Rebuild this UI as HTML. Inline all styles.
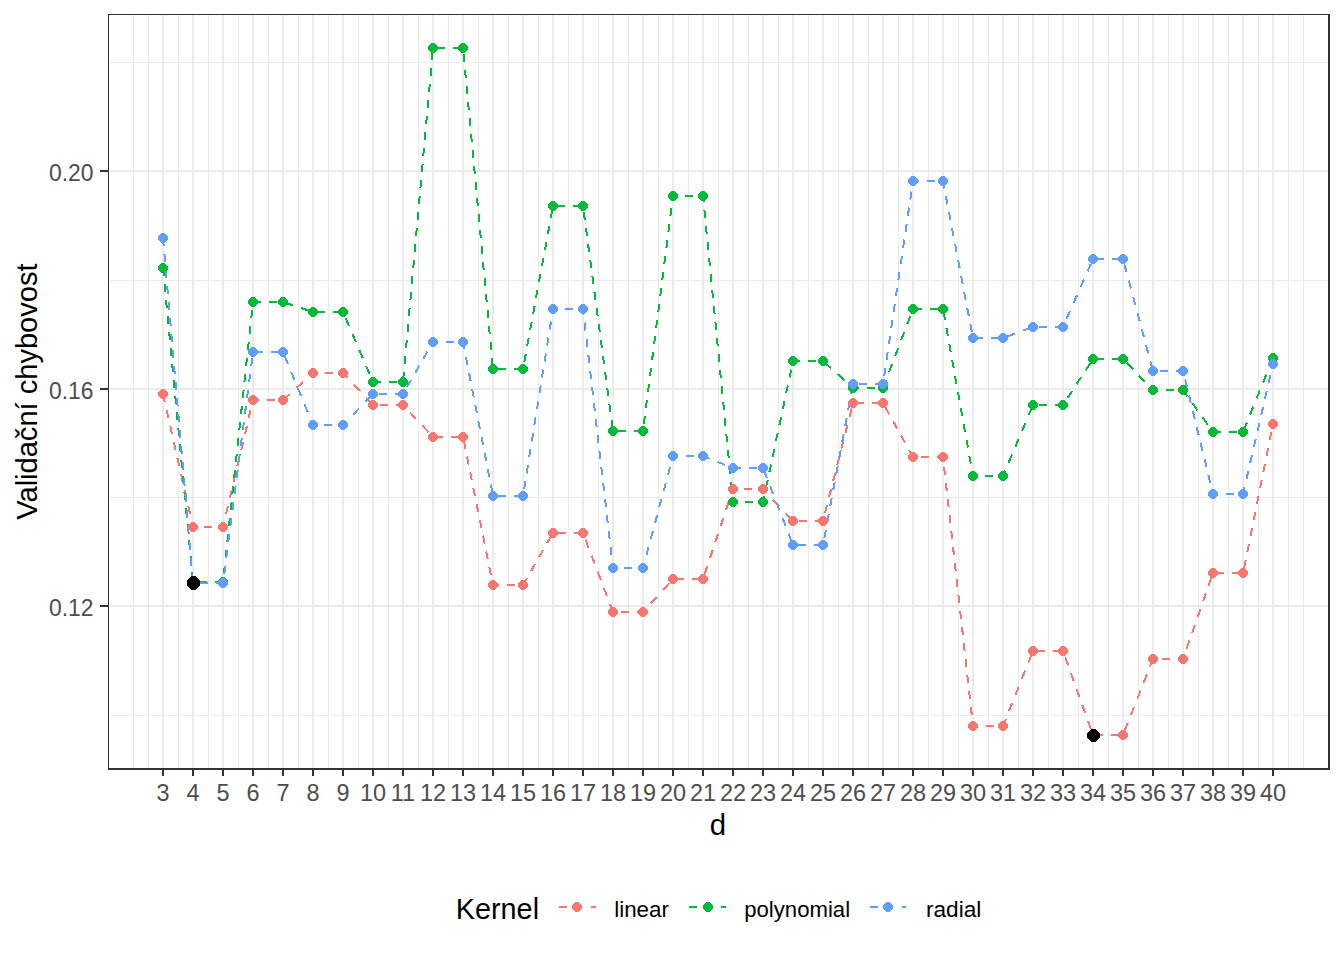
<!DOCTYPE html>
<html lang="cs"><head><meta charset="utf-8"><title>Validační chybovost</title>
<style>html,body{margin:0;padding:0;background:#fff}body{width:1344px;height:960px;overflow:hidden}svg{display:block}text{font-family:"Liberation Sans",Arial,sans-serif}</style>
</head><body>
<svg width="1344" height="960" viewBox="0 0 1344 960">
<rect width="1344" height="960" fill="#fff"/>
<g fill="#EBEBEB" shape-rendering="crispEdges">
<rect x="110" y="62" width="1218" height="1"/>
<rect x="110" y="280" width="1218" height="1"/>
<rect x="110" y="497" width="1218" height="1"/>
<rect x="110" y="715" width="1218" height="1"/>
<rect x="133" y="15" width="1" height="753"/>
<rect x="148" y="15" width="1" height="753"/>
<rect x="178" y="15" width="1" height="753"/>
<rect x="208" y="15" width="1" height="753"/>
<rect x="238" y="15" width="1" height="753"/>
<rect x="268" y="15" width="1" height="753"/>
<rect x="298" y="15" width="1" height="753"/>
<rect x="328" y="15" width="1" height="753"/>
<rect x="358" y="15" width="1" height="753"/>
<rect x="388" y="15" width="1" height="753"/>
<rect x="418" y="15" width="1" height="753"/>
<rect x="448" y="15" width="1" height="753"/>
<rect x="478" y="15" width="1" height="753"/>
<rect x="508" y="15" width="1" height="753"/>
<rect x="538" y="15" width="1" height="753"/>
<rect x="568" y="15" width="1" height="753"/>
<rect x="598" y="15" width="1" height="753"/>
<rect x="628" y="15" width="1" height="753"/>
<rect x="658" y="15" width="1" height="753"/>
<rect x="688" y="15" width="1" height="753"/>
<rect x="718" y="15" width="1" height="753"/>
<rect x="748" y="15" width="1" height="753"/>
<rect x="778" y="15" width="1" height="753"/>
<rect x="808" y="15" width="1" height="753"/>
<rect x="838" y="15" width="1" height="753"/>
<rect x="868" y="15" width="1" height="753"/>
<rect x="898" y="15" width="1" height="753"/>
<rect x="928" y="15" width="1" height="753"/>
<rect x="958" y="15" width="1" height="753"/>
<rect x="988" y="15" width="1" height="753"/>
<rect x="1018" y="15" width="1" height="753"/>
<rect x="1048" y="15" width="1" height="753"/>
<rect x="1078" y="15" width="1" height="753"/>
<rect x="1108" y="15" width="1" height="753"/>
<rect x="1138" y="15" width="1" height="753"/>
<rect x="1168" y="15" width="1" height="753"/>
<rect x="1198" y="15" width="1" height="753"/>
<rect x="1228" y="15" width="1" height="753"/>
<rect x="1258" y="15" width="1" height="753"/>
<rect x="1288" y="15" width="1" height="753"/>
<rect x="1303" y="15" width="1" height="753"/>
<rect x="110" y="170" width="1218" height="2"/>
<rect x="110" y="388" width="1218" height="2"/>
<rect x="110" y="605" width="1218" height="2"/>
<rect x="162" y="15" width="2" height="753"/>
<rect x="192" y="15" width="2" height="753"/>
<rect x="222" y="15" width="2" height="753"/>
<rect x="252" y="15" width="2" height="753"/>
<rect x="282" y="15" width="2" height="753"/>
<rect x="312" y="15" width="2" height="753"/>
<rect x="342" y="15" width="2" height="753"/>
<rect x="372" y="15" width="2" height="753"/>
<rect x="402" y="15" width="2" height="753"/>
<rect x="432" y="15" width="2" height="753"/>
<rect x="462" y="15" width="2" height="753"/>
<rect x="492" y="15" width="2" height="753"/>
<rect x="522" y="15" width="2" height="753"/>
<rect x="552" y="15" width="2" height="753"/>
<rect x="582" y="15" width="2" height="753"/>
<rect x="612" y="15" width="2" height="753"/>
<rect x="642" y="15" width="2" height="753"/>
<rect x="672" y="15" width="2" height="753"/>
<rect x="702" y="15" width="2" height="753"/>
<rect x="732" y="15" width="2" height="753"/>
<rect x="762" y="15" width="2" height="753"/>
<rect x="792" y="15" width="2" height="753"/>
<rect x="822" y="15" width="2" height="753"/>
<rect x="852" y="15" width="2" height="753"/>
<rect x="882" y="15" width="2" height="753"/>
<rect x="912" y="15" width="2" height="753"/>
<rect x="942" y="15" width="2" height="753"/>
<rect x="972" y="15" width="2" height="753"/>
<rect x="1002" y="15" width="2" height="753"/>
<rect x="1032" y="15" width="2" height="753"/>
<rect x="1062" y="15" width="2" height="753"/>
<rect x="1092" y="15" width="2" height="753"/>
<rect x="1122" y="15" width="2" height="753"/>
<rect x="1152" y="15" width="2" height="753"/>
<rect x="1182" y="15" width="2" height="753"/>
<rect x="1212" y="15" width="2" height="753"/>
<rect x="1242" y="15" width="2" height="753"/>
<rect x="1272" y="15" width="2" height="753"/>
</g>
<g fill="none" stroke-width="2" shape-rendering="crispEdges">
<path stroke="#F8766D" d="M163 394L164.8 402M166.6 410L168.4 418M170.2 426L172 434M173.8 442L175.6 450M177.4 458L179.2 466M181 474L182.8 482M184.7 490L186.5 498M188.3 506L190.1 514M191.9 522L193 527M193 527L196 527M204 527L212 527M220 527L223 527M223 527L224.2 522M226.1 514L228 506M229.9 498L231.7 490M233.6 482L235.5 474M237.4 466L239.3 458M241.2 450L243.1 442M245 434L246.9 426M248.7 418L250.6 410M252.5 402L253 400M253 400L259 400M267 400L275 400M283 400L289.7 394M296.3 388L303 382M309.7 376L313 373M313 373L317 373M325 373L333 373M341 373L343 373M343 373L347.6 377.9M353.8 384.5L359.9 391.1M366.1 397.6L372.2 404.2M380 405L388 405M396 405L403 405M403 405L403.8 405.8M409.9 412.3L416 418.9M422.1 425.4L428.3 431.9M434.8 437L442.8 437M450.8 437L458.8 437M463.8 440.8L465.4 448.7M467 456.6L468.6 464.5M470.2 472.4L471.8 480.3M473.4 488.2L475 496.1M476.6 504L478.2 511.9M479.8 519.8L481.4 527.7M483 535.6L484.6 543.5M486.2 551.4L487.8 559.3M489.4 567.2L491 575.1M492.6 583L493 585M493 585L499 585M507 585L515 585M523 585L527 578M531.1 571L535.1 564M539.2 557L543.2 550M547.2 543L551.3 536M557.6 533L565.6 533M573.6 533L581.6 533M585.5 539.6L588.6 547.7M591.6 555.7L594.7 563.8M597.7 571.8L600.8 579.8M603.8 587.9L606.9 595.9M609.9 604L613 612M621 612L629 612M637 612L643 612M643 612L644.5 610.3M650.7 603.5L656.8 596.8M663 590L669.2 583.2M676 579L684 579M692 579L700 579M704.7 574L707.3 566M710 558L712.7 550M715.3 542L718 534M720.7 526L723.3 518M726 510L728.7 502M731.3 494L733 489M733 489L736 489M744 489L752 489M760 489L763 489M763 489L766.8 493.1M773 499.7L779.2 506.2M785.3 512.8L791.5 519.4M799 521L807 521M815 521L823 521M825 513L827.1 504.9M829.1 496.9L831.2 488.9M833.2 480.8L835.3 472.8M837.3 464.8L839.3 456.7M841.4 448.7L843.4 440.7M845.5 432.6L847.5 424.6M849.6 416.6L851.6 408.5M855.5 403L863.5 403M871.5 403L879.5 403M885.2 407L889.2 414.2M893.2 421.3L897.1 428.4M901.1 435.6L905.1 442.7M909 449.9L913 457M921 457L929 457M937 457L943 457M943 457L943.2 459M944.1 467L945 475M945.9 483L946.8 491M947.7 499L948.6 507M949.5 515L950.4 523M951.3 531L952.1 539M953 547L953.9 555M954.8 563L955.7 571M956.6 579L957.5 587M958.4 595L959.3 603M960.2 611L961.1 619M962 627L962.9 635M963.7 643L964.6 651M965.5 659L966.4 667M967.3 675L968.2 683M969.1 691L970 699M970.9 707L971.8 715M972.7 723L973 726M973 726L978 726M986 726L994 726M1002 726L1003 726M1003 726L1005.8 719M1009 710.9L1012.2 702.9M1015.5 694.8L1018.7 686.8M1021.9 678.7L1025.1 670.7M1028.3 662.7L1031.6 654.6M1037.4 651L1045.4 651M1053.4 651L1061.4 651M1065.3 657.4L1068.1 665.3M1071 673.3L1073.8 681.3M1076.6 689.2L1079.5 697.2M1082.3 705.1L1085.2 713.1M1088 721.1L1090.9 729M1095 735L1103 735M1111 735L1119 735M1124.6 731L1127.8 722.9M1130.9 714.9L1134.1 706.8M1137.3 698.8L1140.5 690.7M1143.7 682.7L1146.8 674.6M1150 666.5L1153 659M1153 659L1153.5 659M1161.5 659L1169.5 659M1177.5 659L1183 659M1183 659L1183.9 656.5M1186.6 648.7L1189.4 640.8M1192.1 632.9L1194.9 625M1197.6 617.1L1200.4 609.2M1203.1 601.3L1205.9 593.5M1208.6 585.6L1211.4 577.7M1216.2 573L1224.2 573M1232.2 573L1240.2 573M1244.1 567.8L1245.7 559.8M1247.3 551.8L1248.9 543.8M1250.5 535.8L1252.1 527.8M1253.7 519.8L1255.3 511.8M1256.9 503.8L1258.6 495.8M1260.2 487.8L1261.8 479.8M1263.4 471.8L1265 463.8M1266.6 455.8L1268.2 447.8M1269.8 439.8L1271.4 431.8"/>
<path stroke="#00BA38" d="M163 268L163.8 276M164.5 284L165.3 292M166.1 300L166.8 308M167.6 316L168.4 324M169.1 332L169.9 340M170.6 348L171.4 356M172.2 364L172.9 372M173.7 380L174.5 388M175.2 396L176 404M176.8 412L177.5 420M178.3 428L179.1 436M179.8 444L180.6 452M181.3 460L182.1 468M182.9 476L183.6 484M184.4 492L185.2 500M185.9 508L186.7 516M187.5 524L188.2 532M189 540L189.8 548M190.5 556L191.3 564M192 572L192.8 580M199 582L207 582M215 582L223 582M223.9 574L224.7 566M225.6 558L226.4 550M227.3 542L228.1 534M229 526L229.9 518M230.7 510L231.6 502M232.4 494L233.3 486M234.1 478L235 470M235.9 462L236.7 454M237.6 446L238.4 438M239.3 430L240.1 422M241 414L241.9 406M242.7 398L243.6 390M244.4 382L245.3 374M246.1 366L247 358M247.9 350L248.7 342M249.6 334L250.4 326M251.3 318L252.1 310M253 302L261 302M269 302L277 302M285 302.7L293 305.3M301 308L309 310.7M317 312L325 312M333 312L341 312M345.6 318L349 326M352.4 334L355.9 342M359.3 350L362.7 358M366.1 366L369.6 374M373 382L381 382M389 382L397 382M403.2 380L403.9 372M404.6 364L405.3 356M406.1 348L406.8 340M407.5 332L408.2 324M408.9 316L409.6 308M410.4 300L411.1 292M411.8 284L412.5 276M413.2 268L414 260M414.7 252L415.4 244M416.1 236L416.8 228M417.6 220L418.3 212M419 204L419.7 196M420.4 188L421.1 180M421.9 172L422.6 164M423.3 156L424 148M424.7 140L425.5 132M426.2 124L426.9 116M427.6 108L428.3 100M429 92L429.8 84M430.5 76L431.2 68M431.9 60L432.6 52M437 48L445 48M453 48L461 48M463.6 54L464.3 62M465.1 70L465.8 78M466.6 86L467.3 94M468 102L468.8 110M469.5 118L470.3 126M471 134L471.8 142M472.5 150L473.3 158M474 166L474.8 174M475.5 182L476.3 190M477 198L477.8 206M478.5 214L479.3 222M480 230L480.8 238M481.5 246L482.3 254M483 262L483.7 270M484.5 278L485.2 286M486 294L486.7 302M487.5 310L488.2 318M489 326L489.7 334M490.5 342L491.2 350M492 358L492.7 366M498 369L506 369M514 369L522 369M524.3 362L525.8 354M527.2 346L528.7 338M530.2 330.1L531.6 322.1M533.1 314.1L534.6 306.1M536 298.1L537.5 290.1M539 282.1L540.5 274.1M541.9 266.2L543.4 258.2M544.9 250.2L546.3 242.2M547.8 234.2L549.3 226.2M550.7 218.2L552.2 210.2M556.8 206L564.8 206M572.8 206L580.8 206M583.8 211.8L584.8 219.8M585.9 227.8L587 235.8M588 243.8L589.1 251.8M590.2 259.8L591.2 267.8M592.3 275.8L593.4 283.8M594.4 291.8L595.5 299.8M596.6 307.8L597.6 315.8M598.7 323.8L599.8 331.8M600.8 339.8L601.9 347.8M603 355.8L604 363.8M605.1 371.8L606.2 379.8M607.2 387.8L608.3 395.8M609.4 403.8L610.4 411.8M611.5 419.8L612.6 427.8M617.8 431L625.8 431M633.8 431L641.8 431M643.9 424.2L644.9 416.2M645.9 408.2L646.9 400.2M648 392.2L649 384.2M650 376.2L651 368.2M652 360.2L653.1 352.2M654.1 344.2L655.1 336.1M656.1 328.1L657.2 320.1M658.2 312.1L659.2 304.1M660.2 296.1L661.2 288.1M662.3 280.1L663.3 272.1M664.3 264.1L665.3 256.1M666.4 248.1L667.4 240M668.4 232L669.4 224M670.4 216L671.5 208M672.5 200L673 196M673 196L677 196M685 196L693 196M701 196L703 196M703 196L703.6 202M704.4 210L705.2 218M705.9 226L706.7 234M707.5 242L708.3 250M709.1 258L709.9 266M710.6 274L711.4 282M712.2 290L713 298M713.8 306L714.6 314M715.4 322L716.1 330M716.9 338L717.7 346M718.5 354L719.3 362M720.1 370L720.8 378M721.6 386L722.4 394M723.2 402L724 410M724.8 418L725.5 426M726.3 434L727.1 442M727.9 450L728.7 458M729.5 466L730.3 474M731 482L731.8 490M732.6 498L733 502M733 502L737 502M745 502L753 502M761 502L763 502M763 502L764.3 496.1M765.9 488.2L767.6 480.3M769.3 472.4L771 464.5M772.7 456.6L774.3 448.7M776 440.8L777.7 432.9M779.4 425L781.1 417.1M782.8 409.2L784.4 401.3M786.1 393.3L787.8 385.4M789.5 377.5L791.2 369.6M792.8 361.7L793 361M793 361L800.2 361M808.2 361L816.2 361M824.1 362L830.9 368.1M837.7 374.2L844.5 380.3M851.3 386.5L853 388M853 388L859 388M867 388L875 388M883 388L886 380M889.1 372L892.1 364M895.2 356L898.2 348M901.2 340L904.3 332M907.3 324L910.3 316M914 309L922 309M930 309L938 309M943.5 312L945 320M946.4 327.9L947.8 335.9M949.3 343.9L950.7 351.9M952.1 359.8L953.6 367.8M955 375.8L956.4 383.8M957.9 391.8L959.3 399.7M960.7 407.7L962.2 415.7M963.6 423.7L965 431.6M966.5 439.6L967.9 447.6M969.3 455.6L970.8 463.5M972.2 471.5L973 476M973 476L976.5 476M984.5 476L992.5 476M1000.5 476L1003 476M1003 476L1005.3 470.5M1008.7 462.6L1012 454.7M1015.4 446.7L1018.7 438.8M1022.1 430.8L1025.4 422.9M1028.8 414.9L1032.2 407M1039 405L1047 405M1055 405L1063 405M1067.5 398L1072.1 391M1076.6 384.1L1081.2 377.1M1085.7 370.1L1090.3 363.1M1096.2 359L1104.2 359M1112.2 359L1120.2 359M1126.9 363L1132.9 369.2M1138.8 375.4L1144.8 381.5M1150.8 387.7L1153 390M1153 390L1158 390M1166 390L1174 390M1182 390L1183 390M1183 390L1187.4 396.2M1192.5 403.3L1197.5 410.3M1202.6 417.4L1207.6 424.5M1212.7 431.6L1213 432M1213 432L1220.5 432M1228.5 432L1236.5 432M1243.6 430.5L1246.9 422.5M1250.1 414.5L1253.3 406.5M1256.6 398.5L1259.8 390.5M1263.1 382.5L1266.3 374.5M1269.6 366.5L1272.8 358.5"/>
<path stroke="#619CFF" d="M163 238L163.7 246M164.4 254L165.1 262M165.8 270L166.5 278M167.2 286L167.9 294M168.6 302L169.3 310M170 318L170.7 326M171.3 334L172 342M172.7 350L173.4 358M174.1 366L174.8 374M175.5 382L176.2 390M176.9 398L177.6 406M178.3 414L179 422M179.7 430L180.4 438M181.1 446L181.8 454M182.5 462L183.2 470M183.9 478L184.6 486M185.3 494L186 502M186.7 510L187.3 518M188 526L188.7 534M189.4 542L190.1 550M190.8 558L191.5 566M192.2 574L192.9 582M200 583L208 583M216 583L223 583M223 583L223.1 582M224.2 574L225.2 566M226.2 558L227.3 550M228.3 542L229.4 534M230.4 526L231.4 518M232.5 510L233.5 502M234.6 494L235.6 486M236.6 478L237.7 470M238.7 462L239.8 454M240.8 446L241.8 438M242.9 430L243.9 422M244.9 414L246 406M247 398L248.1 390M249.1 382L250.1 374M251.2 366L252.2 358M255 352L263 352M271 352L279 352M284.6 356L287.9 364M291.2 372L294.5 380M297.8 388L301.1 396M304.4 404L307.7 412M310.9 420L313 425M313 425L316 425M324 425L332 425M340 425L343 425M343 425L346.8 421M353 414.7L359.2 408.3M365.3 401.9L371.5 395.6M379 394L387 394M395 394L403 394M407.1 386.9L411.1 379.9M415.2 372.8L419.3 365.8M423.3 358.7L427.4 351.7M431.5 344.6L433 342M433 342L438 342M446 342L454 342M462 342L463 342M463 342L464.4 349M465.9 357L467.5 364.9M469 372.9L470.6 380.9M472.1 388.9L473.7 396.9M475.2 404.8L476.8 412.8M478.3 420.8L479.9 428.8M481.5 436.8L483 444.7M484.6 452.7L486.1 460.7M487.7 468.7L489.2 476.7M490.8 484.6L492.3 492.6M497.6 496L505.6 496M513.6 496L521.6 496M524.1 489.4L525.3 481.4M526.6 473.4L527.9 465.4M529.2 457.4L530.5 449.4M531.8 441.4L533 433.4M534.3 425.4L535.6 417.4M536.9 409.4L538.2 401.5M539.5 393.5L540.7 385.5M542 377.5L543.3 369.5M544.6 361.5L545.9 353.5M547.1 345.5L548.4 337.5M549.7 329.5L551 321.5M552.3 313.5L553 309M553 309L556.5 309M564.5 309L572.5 309M580.5 309L583 309M583 309L583.6 314.5M584.6 322.5L585.5 330.5M586.4 338.6L587.4 346.6M588.3 354.6L589.2 362.6M590.1 370.6L591.1 378.6M592 386.6L592.9 394.7M593.9 402.7L594.8 410.7M595.7 418.7L596.6 426.7M597.6 434.7L598.5 442.8M599.4 450.8L600.4 458.8M601.3 466.8L602.2 474.8M603.1 482.8L604.1 490.9M605 498.9L605.9 506.9M606.8 514.9L607.8 522.9M608.7 530.9L609.6 538.9M610.6 547L611.5 555M612.4 563L613 568M613 568L616 568M624 568L632 568M640 568L643 568M643 568L644.3 563M646.5 555L648.6 547M650.8 539L652.9 531M655.1 523L657.2 515M659.3 507L661.5 499M663.6 491L665.8 483M667.9 475L670.1 467M672.2 459L673 456M673 456L678 456M686 456L694 456M702 456L703 456M703 456L709.8 458.7M717.5 461.8L725.3 464.9M733 468L741 468M749 468L757 468M763.8 470L766.9 478M770 485.9L773.1 493.9M776.2 501.9L779.3 509.9M782.4 517.8L785.5 525.8M788.6 533.8L791.7 541.8M797.8 545L805.8 545M813.8 545L821.8 545M824.3 538.2L825.8 530.2M827.2 522.2L828.7 514.2M830.2 506.2L831.7 498.2M833.2 490.2L834.7 482.2M836.2 474.1L837.7 466.1M839.2 458.1L840.7 450.1M842.2 442.1L843.7 434.1M845.2 426.1L846.7 418.1M848.1 410L849.6 402M851.1 394L852.6 386M859 384L867 384M875 384L883 384M884.2 376L885.4 368M886.6 359.9L887.7 351.9M888.9 343.9L890.1 335.9M891.3 327.9L892.5 319.8M893.7 311.8L894.9 303.8M896 295.8L897.2 287.8M898.4 279.7L899.6 271.7M900.8 263.7L902 255.7M903.1 247.7L904.3 239.6M905.5 231.6L906.7 223.6M907.9 215.6L909.1 207.6M910.3 199.5L911.4 191.5M912.6 183.5L913 181M913 181L918.5 181M926.5 181L934.5 181M942.5 181L943 181M943 181L944.4 188.5M945.9 196.4L947.5 204.4M949 212.4L950.5 220.3M952 228.3L953.6 236.2M955.1 244.2L956.6 252.2M958.1 260.1L959.6 268.1M961.2 276L962.7 284M964.2 292L965.7 299.9M967.2 307.9L968.8 315.9M970.3 323.8L971.8 331.8M974.8 338L982.8 338M990.8 338L998.8 338M1006.8 336.6L1015 333.6M1023.2 330.6L1031.4 327.6M1039.4 327L1047.4 327M1055.4 327L1063 327M1063 327L1063.2 326.6M1066.6 318.7L1070.1 310.9M1073.6 303L1077.1 295.1M1080.5 287.3L1084 279.4M1087.5 271.5L1090.9 263.7M1096.2 259L1104.2 259M1112.2 259L1120.2 259M1124.4 264.3L1126.6 272.4M1128.8 280.5L1130.9 288.6M1133.1 296.7L1135.3 304.8M1137.4 312.9L1139.6 320.9M1141.8 329L1143.9 337.1M1146.1 345.2L1148.3 353.3M1150.4 361.4L1152.6 369.5M1159.5 371L1167.5 371M1175.5 371L1183 371M1183 371L1183.1 371.5M1185.1 379.5L1187 387.4M1189 395.4L1190.9 403.4M1192.8 411.3L1194.8 419.3M1196.7 427.3L1198.7 435.2M1200.6 443.2L1202.6 451.2M1204.5 459.1L1206.4 467.1M1208.4 475.1L1210.3 483M1212.3 491L1213 494M1213 494L1218 494M1226 494L1234 494M1242 494L1243 494M1243 494L1244.6 487M1246.5 479L1248.3 471M1250.2 463L1252 455M1253.8 447L1255.7 439M1257.5 431L1259.4 423M1261.2 415L1263.1 407M1264.9 399L1266.8 391M1268.6 383L1270.5 375M1272.3 367L1273 364"/>
</g>
<g shape-rendering="crispEdges">
<path fill="#F8766D" d="M161 389h4v1h1v1h1v1h1v4h-1v1h-1v1h-1v1h-4v-1h-1v-1h-1v-1h-1v-4h1v-1h1v-1h1z"/>
<path fill="#F8766D" d="M191 522h4v1h1v1h1v1h1v4h-1v1h-1v1h-1v1h-4v-1h-1v-1h-1v-1h-1v-4h1v-1h1v-1h1z"/>
<path fill="#F8766D" d="M221 522h4v1h1v1h1v1h1v4h-1v1h-1v1h-1v1h-4v-1h-1v-1h-1v-1h-1v-4h1v-1h1v-1h1z"/>
<path fill="#F8766D" d="M251 395h4v1h1v1h1v1h1v4h-1v1h-1v1h-1v1h-4v-1h-1v-1h-1v-1h-1v-4h1v-1h1v-1h1z"/>
<path fill="#F8766D" d="M281 395h4v1h1v1h1v1h1v4h-1v1h-1v1h-1v1h-4v-1h-1v-1h-1v-1h-1v-4h1v-1h1v-1h1z"/>
<path fill="#F8766D" d="M311 368h4v1h1v1h1v1h1v4h-1v1h-1v1h-1v1h-4v-1h-1v-1h-1v-1h-1v-4h1v-1h1v-1h1z"/>
<path fill="#F8766D" d="M341 368h4v1h1v1h1v1h1v4h-1v1h-1v1h-1v1h-4v-1h-1v-1h-1v-1h-1v-4h1v-1h1v-1h1z"/>
<path fill="#F8766D" d="M371 400h4v1h1v1h1v1h1v4h-1v1h-1v1h-1v1h-4v-1h-1v-1h-1v-1h-1v-4h1v-1h1v-1h1z"/>
<path fill="#F8766D" d="M401 400h4v1h1v1h1v1h1v4h-1v1h-1v1h-1v1h-4v-1h-1v-1h-1v-1h-1v-4h1v-1h1v-1h1z"/>
<path fill="#F8766D" d="M431 432h4v1h1v1h1v1h1v4h-1v1h-1v1h-1v1h-4v-1h-1v-1h-1v-1h-1v-4h1v-1h1v-1h1z"/>
<path fill="#F8766D" d="M461 432h4v1h1v1h1v1h1v4h-1v1h-1v1h-1v1h-4v-1h-1v-1h-1v-1h-1v-4h1v-1h1v-1h1z"/>
<path fill="#F8766D" d="M491 580h4v1h1v1h1v1h1v4h-1v1h-1v1h-1v1h-4v-1h-1v-1h-1v-1h-1v-4h1v-1h1v-1h1z"/>
<path fill="#F8766D" d="M521 580h4v1h1v1h1v1h1v4h-1v1h-1v1h-1v1h-4v-1h-1v-1h-1v-1h-1v-4h1v-1h1v-1h1z"/>
<path fill="#F8766D" d="M551 528h4v1h1v1h1v1h1v4h-1v1h-1v1h-1v1h-4v-1h-1v-1h-1v-1h-1v-4h1v-1h1v-1h1z"/>
<path fill="#F8766D" d="M581 528h4v1h1v1h1v1h1v4h-1v1h-1v1h-1v1h-4v-1h-1v-1h-1v-1h-1v-4h1v-1h1v-1h1z"/>
<path fill="#F8766D" d="M611 607h4v1h1v1h1v1h1v4h-1v1h-1v1h-1v1h-4v-1h-1v-1h-1v-1h-1v-4h1v-1h1v-1h1z"/>
<path fill="#F8766D" d="M641 607h4v1h1v1h1v1h1v4h-1v1h-1v1h-1v1h-4v-1h-1v-1h-1v-1h-1v-4h1v-1h1v-1h1z"/>
<path fill="#F8766D" d="M671 574h4v1h1v1h1v1h1v4h-1v1h-1v1h-1v1h-4v-1h-1v-1h-1v-1h-1v-4h1v-1h1v-1h1z"/>
<path fill="#F8766D" d="M701 574h4v1h1v1h1v1h1v4h-1v1h-1v1h-1v1h-4v-1h-1v-1h-1v-1h-1v-4h1v-1h1v-1h1z"/>
<path fill="#F8766D" d="M731 484h4v1h1v1h1v1h1v4h-1v1h-1v1h-1v1h-4v-1h-1v-1h-1v-1h-1v-4h1v-1h1v-1h1z"/>
<path fill="#F8766D" d="M761 484h4v1h1v1h1v1h1v4h-1v1h-1v1h-1v1h-4v-1h-1v-1h-1v-1h-1v-4h1v-1h1v-1h1z"/>
<path fill="#F8766D" d="M791 516h4v1h1v1h1v1h1v4h-1v1h-1v1h-1v1h-4v-1h-1v-1h-1v-1h-1v-4h1v-1h1v-1h1z"/>
<path fill="#F8766D" d="M821 516h4v1h1v1h1v1h1v4h-1v1h-1v1h-1v1h-4v-1h-1v-1h-1v-1h-1v-4h1v-1h1v-1h1z"/>
<path fill="#F8766D" d="M851 398h4v1h1v1h1v1h1v4h-1v1h-1v1h-1v1h-4v-1h-1v-1h-1v-1h-1v-4h1v-1h1v-1h1z"/>
<path fill="#F8766D" d="M881 398h4v1h1v1h1v1h1v4h-1v1h-1v1h-1v1h-4v-1h-1v-1h-1v-1h-1v-4h1v-1h1v-1h1z"/>
<path fill="#F8766D" d="M911 452h4v1h1v1h1v1h1v4h-1v1h-1v1h-1v1h-4v-1h-1v-1h-1v-1h-1v-4h1v-1h1v-1h1z"/>
<path fill="#F8766D" d="M941 452h4v1h1v1h1v1h1v4h-1v1h-1v1h-1v1h-4v-1h-1v-1h-1v-1h-1v-4h1v-1h1v-1h1z"/>
<path fill="#F8766D" d="M971 721h4v1h1v1h1v1h1v4h-1v1h-1v1h-1v1h-4v-1h-1v-1h-1v-1h-1v-4h1v-1h1v-1h1z"/>
<path fill="#F8766D" d="M1001 721h4v1h1v1h1v1h1v4h-1v1h-1v1h-1v1h-4v-1h-1v-1h-1v-1h-1v-4h1v-1h1v-1h1z"/>
<path fill="#F8766D" d="M1031 646h4v1h1v1h1v1h1v4h-1v1h-1v1h-1v1h-4v-1h-1v-1h-1v-1h-1v-4h1v-1h1v-1h1z"/>
<path fill="#F8766D" d="M1061 646h4v1h1v1h1v1h1v4h-1v1h-1v1h-1v1h-4v-1h-1v-1h-1v-1h-1v-4h1v-1h1v-1h1z"/>
<path fill="#F8766D" d="M1091 730h4v1h1v1h1v1h1v4h-1v1h-1v1h-1v1h-4v-1h-1v-1h-1v-1h-1v-4h1v-1h1v-1h1z"/>
<path fill="#F8766D" d="M1121 730h4v1h1v1h1v1h1v4h-1v1h-1v1h-1v1h-4v-1h-1v-1h-1v-1h-1v-4h1v-1h1v-1h1z"/>
<path fill="#F8766D" d="M1151 654h4v1h1v1h1v1h1v4h-1v1h-1v1h-1v1h-4v-1h-1v-1h-1v-1h-1v-4h1v-1h1v-1h1z"/>
<path fill="#F8766D" d="M1181 654h4v1h1v1h1v1h1v4h-1v1h-1v1h-1v1h-4v-1h-1v-1h-1v-1h-1v-4h1v-1h1v-1h1z"/>
<path fill="#F8766D" d="M1211 568h4v1h1v1h1v1h1v4h-1v1h-1v1h-1v1h-4v-1h-1v-1h-1v-1h-1v-4h1v-1h1v-1h1z"/>
<path fill="#F8766D" d="M1241 568h4v1h1v1h1v1h1v4h-1v1h-1v1h-1v1h-4v-1h-1v-1h-1v-1h-1v-4h1v-1h1v-1h1z"/>
<path fill="#F8766D" d="M1271 419h4v1h1v1h1v1h1v4h-1v1h-1v1h-1v1h-4v-1h-1v-1h-1v-1h-1v-4h1v-1h1v-1h1z"/>
<path fill="#00BA38" d="M161 263h4v1h1v1h1v1h1v4h-1v1h-1v1h-1v1h-4v-1h-1v-1h-1v-1h-1v-4h1v-1h1v-1h1z"/>
<path fill="#00BA38" d="M191 577h4v1h1v1h1v1h1v4h-1v1h-1v1h-1v1h-4v-1h-1v-1h-1v-1h-1v-4h1v-1h1v-1h1z"/>
<path fill="#00BA38" d="M221 577h4v1h1v1h1v1h1v4h-1v1h-1v1h-1v1h-4v-1h-1v-1h-1v-1h-1v-4h1v-1h1v-1h1z"/>
<path fill="#00BA38" d="M251 297h4v1h1v1h1v1h1v4h-1v1h-1v1h-1v1h-4v-1h-1v-1h-1v-1h-1v-4h1v-1h1v-1h1z"/>
<path fill="#00BA38" d="M281 297h4v1h1v1h1v1h1v4h-1v1h-1v1h-1v1h-4v-1h-1v-1h-1v-1h-1v-4h1v-1h1v-1h1z"/>
<path fill="#00BA38" d="M311 307h4v1h1v1h1v1h1v4h-1v1h-1v1h-1v1h-4v-1h-1v-1h-1v-1h-1v-4h1v-1h1v-1h1z"/>
<path fill="#00BA38" d="M341 307h4v1h1v1h1v1h1v4h-1v1h-1v1h-1v1h-4v-1h-1v-1h-1v-1h-1v-4h1v-1h1v-1h1z"/>
<path fill="#00BA38" d="M371 377h4v1h1v1h1v1h1v4h-1v1h-1v1h-1v1h-4v-1h-1v-1h-1v-1h-1v-4h1v-1h1v-1h1z"/>
<path fill="#00BA38" d="M401 377h4v1h1v1h1v1h1v4h-1v1h-1v1h-1v1h-4v-1h-1v-1h-1v-1h-1v-4h1v-1h1v-1h1z"/>
<path fill="#00BA38" d="M431 43h4v1h1v1h1v1h1v4h-1v1h-1v1h-1v1h-4v-1h-1v-1h-1v-1h-1v-4h1v-1h1v-1h1z"/>
<path fill="#00BA38" d="M461 43h4v1h1v1h1v1h1v4h-1v1h-1v1h-1v1h-4v-1h-1v-1h-1v-1h-1v-4h1v-1h1v-1h1z"/>
<path fill="#00BA38" d="M491 364h4v1h1v1h1v1h1v4h-1v1h-1v1h-1v1h-4v-1h-1v-1h-1v-1h-1v-4h1v-1h1v-1h1z"/>
<path fill="#00BA38" d="M521 364h4v1h1v1h1v1h1v4h-1v1h-1v1h-1v1h-4v-1h-1v-1h-1v-1h-1v-4h1v-1h1v-1h1z"/>
<path fill="#00BA38" d="M551 201h4v1h1v1h1v1h1v4h-1v1h-1v1h-1v1h-4v-1h-1v-1h-1v-1h-1v-4h1v-1h1v-1h1z"/>
<path fill="#00BA38" d="M581 201h4v1h1v1h1v1h1v4h-1v1h-1v1h-1v1h-4v-1h-1v-1h-1v-1h-1v-4h1v-1h1v-1h1z"/>
<path fill="#00BA38" d="M611 426h4v1h1v1h1v1h1v4h-1v1h-1v1h-1v1h-4v-1h-1v-1h-1v-1h-1v-4h1v-1h1v-1h1z"/>
<path fill="#00BA38" d="M641 426h4v1h1v1h1v1h1v4h-1v1h-1v1h-1v1h-4v-1h-1v-1h-1v-1h-1v-4h1v-1h1v-1h1z"/>
<path fill="#00BA38" d="M671 191h4v1h1v1h1v1h1v4h-1v1h-1v1h-1v1h-4v-1h-1v-1h-1v-1h-1v-4h1v-1h1v-1h1z"/>
<path fill="#00BA38" d="M701 191h4v1h1v1h1v1h1v4h-1v1h-1v1h-1v1h-4v-1h-1v-1h-1v-1h-1v-4h1v-1h1v-1h1z"/>
<path fill="#00BA38" d="M731 497h4v1h1v1h1v1h1v4h-1v1h-1v1h-1v1h-4v-1h-1v-1h-1v-1h-1v-4h1v-1h1v-1h1z"/>
<path fill="#00BA38" d="M761 497h4v1h1v1h1v1h1v4h-1v1h-1v1h-1v1h-4v-1h-1v-1h-1v-1h-1v-4h1v-1h1v-1h1z"/>
<path fill="#00BA38" d="M791 356h4v1h1v1h1v1h1v4h-1v1h-1v1h-1v1h-4v-1h-1v-1h-1v-1h-1v-4h1v-1h1v-1h1z"/>
<path fill="#00BA38" d="M821 356h4v1h1v1h1v1h1v4h-1v1h-1v1h-1v1h-4v-1h-1v-1h-1v-1h-1v-4h1v-1h1v-1h1z"/>
<path fill="#00BA38" d="M851 383h4v1h1v1h1v1h1v4h-1v1h-1v1h-1v1h-4v-1h-1v-1h-1v-1h-1v-4h1v-1h1v-1h1z"/>
<path fill="#00BA38" d="M881 383h4v1h1v1h1v1h1v4h-1v1h-1v1h-1v1h-4v-1h-1v-1h-1v-1h-1v-4h1v-1h1v-1h1z"/>
<path fill="#00BA38" d="M911 304h4v1h1v1h1v1h1v4h-1v1h-1v1h-1v1h-4v-1h-1v-1h-1v-1h-1v-4h1v-1h1v-1h1z"/>
<path fill="#00BA38" d="M941 304h4v1h1v1h1v1h1v4h-1v1h-1v1h-1v1h-4v-1h-1v-1h-1v-1h-1v-4h1v-1h1v-1h1z"/>
<path fill="#00BA38" d="M971 471h4v1h1v1h1v1h1v4h-1v1h-1v1h-1v1h-4v-1h-1v-1h-1v-1h-1v-4h1v-1h1v-1h1z"/>
<path fill="#00BA38" d="M1001 471h4v1h1v1h1v1h1v4h-1v1h-1v1h-1v1h-4v-1h-1v-1h-1v-1h-1v-4h1v-1h1v-1h1z"/>
<path fill="#00BA38" d="M1031 400h4v1h1v1h1v1h1v4h-1v1h-1v1h-1v1h-4v-1h-1v-1h-1v-1h-1v-4h1v-1h1v-1h1z"/>
<path fill="#00BA38" d="M1061 400h4v1h1v1h1v1h1v4h-1v1h-1v1h-1v1h-4v-1h-1v-1h-1v-1h-1v-4h1v-1h1v-1h1z"/>
<path fill="#00BA38" d="M1091 354h4v1h1v1h1v1h1v4h-1v1h-1v1h-1v1h-4v-1h-1v-1h-1v-1h-1v-4h1v-1h1v-1h1z"/>
<path fill="#00BA38" d="M1121 354h4v1h1v1h1v1h1v4h-1v1h-1v1h-1v1h-4v-1h-1v-1h-1v-1h-1v-4h1v-1h1v-1h1z"/>
<path fill="#00BA38" d="M1151 385h4v1h1v1h1v1h1v4h-1v1h-1v1h-1v1h-4v-1h-1v-1h-1v-1h-1v-4h1v-1h1v-1h1z"/>
<path fill="#00BA38" d="M1181 385h4v1h1v1h1v1h1v4h-1v1h-1v1h-1v1h-4v-1h-1v-1h-1v-1h-1v-4h1v-1h1v-1h1z"/>
<path fill="#00BA38" d="M1211 427h4v1h1v1h1v1h1v4h-1v1h-1v1h-1v1h-4v-1h-1v-1h-1v-1h-1v-4h1v-1h1v-1h1z"/>
<path fill="#00BA38" d="M1241 427h4v1h1v1h1v1h1v4h-1v1h-1v1h-1v1h-4v-1h-1v-1h-1v-1h-1v-4h1v-1h1v-1h1z"/>
<path fill="#00BA38" d="M1271 353h4v1h1v1h1v1h1v4h-1v1h-1v1h-1v1h-4v-1h-1v-1h-1v-1h-1v-4h1v-1h1v-1h1z"/>
<path fill="#619CFF" d="M161 233h4v1h1v1h1v1h1v4h-1v1h-1v1h-1v1h-4v-1h-1v-1h-1v-1h-1v-4h1v-1h1v-1h1z"/>
<path fill="#619CFF" d="M191 578h4v1h1v1h1v1h1v4h-1v1h-1v1h-1v1h-4v-1h-1v-1h-1v-1h-1v-4h1v-1h1v-1h1z"/>
<path fill="#619CFF" d="M221 578h4v1h1v1h1v1h1v4h-1v1h-1v1h-1v1h-4v-1h-1v-1h-1v-1h-1v-4h1v-1h1v-1h1z"/>
<path fill="#619CFF" d="M251 347h4v1h1v1h1v1h1v4h-1v1h-1v1h-1v1h-4v-1h-1v-1h-1v-1h-1v-4h1v-1h1v-1h1z"/>
<path fill="#619CFF" d="M281 347h4v1h1v1h1v1h1v4h-1v1h-1v1h-1v1h-4v-1h-1v-1h-1v-1h-1v-4h1v-1h1v-1h1z"/>
<path fill="#619CFF" d="M311 420h4v1h1v1h1v1h1v4h-1v1h-1v1h-1v1h-4v-1h-1v-1h-1v-1h-1v-4h1v-1h1v-1h1z"/>
<path fill="#619CFF" d="M341 420h4v1h1v1h1v1h1v4h-1v1h-1v1h-1v1h-4v-1h-1v-1h-1v-1h-1v-4h1v-1h1v-1h1z"/>
<path fill="#619CFF" d="M371 389h4v1h1v1h1v1h1v4h-1v1h-1v1h-1v1h-4v-1h-1v-1h-1v-1h-1v-4h1v-1h1v-1h1z"/>
<path fill="#619CFF" d="M401 389h4v1h1v1h1v1h1v4h-1v1h-1v1h-1v1h-4v-1h-1v-1h-1v-1h-1v-4h1v-1h1v-1h1z"/>
<path fill="#619CFF" d="M431 337h4v1h1v1h1v1h1v4h-1v1h-1v1h-1v1h-4v-1h-1v-1h-1v-1h-1v-4h1v-1h1v-1h1z"/>
<path fill="#619CFF" d="M461 337h4v1h1v1h1v1h1v4h-1v1h-1v1h-1v1h-4v-1h-1v-1h-1v-1h-1v-4h1v-1h1v-1h1z"/>
<path fill="#619CFF" d="M491 491h4v1h1v1h1v1h1v4h-1v1h-1v1h-1v1h-4v-1h-1v-1h-1v-1h-1v-4h1v-1h1v-1h1z"/>
<path fill="#619CFF" d="M521 491h4v1h1v1h1v1h1v4h-1v1h-1v1h-1v1h-4v-1h-1v-1h-1v-1h-1v-4h1v-1h1v-1h1z"/>
<path fill="#619CFF" d="M551 304h4v1h1v1h1v1h1v4h-1v1h-1v1h-1v1h-4v-1h-1v-1h-1v-1h-1v-4h1v-1h1v-1h1z"/>
<path fill="#619CFF" d="M581 304h4v1h1v1h1v1h1v4h-1v1h-1v1h-1v1h-4v-1h-1v-1h-1v-1h-1v-4h1v-1h1v-1h1z"/>
<path fill="#619CFF" d="M611 563h4v1h1v1h1v1h1v4h-1v1h-1v1h-1v1h-4v-1h-1v-1h-1v-1h-1v-4h1v-1h1v-1h1z"/>
<path fill="#619CFF" d="M641 563h4v1h1v1h1v1h1v4h-1v1h-1v1h-1v1h-4v-1h-1v-1h-1v-1h-1v-4h1v-1h1v-1h1z"/>
<path fill="#619CFF" d="M671 451h4v1h1v1h1v1h1v4h-1v1h-1v1h-1v1h-4v-1h-1v-1h-1v-1h-1v-4h1v-1h1v-1h1z"/>
<path fill="#619CFF" d="M701 451h4v1h1v1h1v1h1v4h-1v1h-1v1h-1v1h-4v-1h-1v-1h-1v-1h-1v-4h1v-1h1v-1h1z"/>
<path fill="#619CFF" d="M731 463h4v1h1v1h1v1h1v4h-1v1h-1v1h-1v1h-4v-1h-1v-1h-1v-1h-1v-4h1v-1h1v-1h1z"/>
<path fill="#619CFF" d="M761 463h4v1h1v1h1v1h1v4h-1v1h-1v1h-1v1h-4v-1h-1v-1h-1v-1h-1v-4h1v-1h1v-1h1z"/>
<path fill="#619CFF" d="M791 540h4v1h1v1h1v1h1v4h-1v1h-1v1h-1v1h-4v-1h-1v-1h-1v-1h-1v-4h1v-1h1v-1h1z"/>
<path fill="#619CFF" d="M821 540h4v1h1v1h1v1h1v4h-1v1h-1v1h-1v1h-4v-1h-1v-1h-1v-1h-1v-4h1v-1h1v-1h1z"/>
<path fill="#619CFF" d="M851 379h4v1h1v1h1v1h1v4h-1v1h-1v1h-1v1h-4v-1h-1v-1h-1v-1h-1v-4h1v-1h1v-1h1z"/>
<path fill="#619CFF" d="M881 379h4v1h1v1h1v1h1v4h-1v1h-1v1h-1v1h-4v-1h-1v-1h-1v-1h-1v-4h1v-1h1v-1h1z"/>
<path fill="#619CFF" d="M911 176h4v1h1v1h1v1h1v4h-1v1h-1v1h-1v1h-4v-1h-1v-1h-1v-1h-1v-4h1v-1h1v-1h1z"/>
<path fill="#619CFF" d="M941 176h4v1h1v1h1v1h1v4h-1v1h-1v1h-1v1h-4v-1h-1v-1h-1v-1h-1v-4h1v-1h1v-1h1z"/>
<path fill="#619CFF" d="M971 333h4v1h1v1h1v1h1v4h-1v1h-1v1h-1v1h-4v-1h-1v-1h-1v-1h-1v-4h1v-1h1v-1h1z"/>
<path fill="#619CFF" d="M1001 333h4v1h1v1h1v1h1v4h-1v1h-1v1h-1v1h-4v-1h-1v-1h-1v-1h-1v-4h1v-1h1v-1h1z"/>
<path fill="#619CFF" d="M1031 322h4v1h1v1h1v1h1v4h-1v1h-1v1h-1v1h-4v-1h-1v-1h-1v-1h-1v-4h1v-1h1v-1h1z"/>
<path fill="#619CFF" d="M1061 322h4v1h1v1h1v1h1v4h-1v1h-1v1h-1v1h-4v-1h-1v-1h-1v-1h-1v-4h1v-1h1v-1h1z"/>
<path fill="#619CFF" d="M1091 254h4v1h1v1h1v1h1v4h-1v1h-1v1h-1v1h-4v-1h-1v-1h-1v-1h-1v-4h1v-1h1v-1h1z"/>
<path fill="#619CFF" d="M1121 254h4v1h1v1h1v1h1v4h-1v1h-1v1h-1v1h-4v-1h-1v-1h-1v-1h-1v-4h1v-1h1v-1h1z"/>
<path fill="#619CFF" d="M1151 366h4v1h1v1h1v1h1v4h-1v1h-1v1h-1v1h-4v-1h-1v-1h-1v-1h-1v-4h1v-1h1v-1h1z"/>
<path fill="#619CFF" d="M1181 366h4v1h1v1h1v1h1v4h-1v1h-1v1h-1v1h-4v-1h-1v-1h-1v-1h-1v-4h1v-1h1v-1h1z"/>
<path fill="#619CFF" d="M1211 489h4v1h1v1h1v1h1v4h-1v1h-1v1h-1v1h-4v-1h-1v-1h-1v-1h-1v-4h1v-1h1v-1h1z"/>
<path fill="#619CFF" d="M1241 489h4v1h1v1h1v1h1v4h-1v1h-1v1h-1v1h-4v-1h-1v-1h-1v-1h-1v-4h1v-1h1v-1h1z"/>
<path fill="#619CFF" d="M1271 359h4v1h1v1h1v1h1v4h-1v1h-1v1h-1v1h-4v-1h-1v-1h-1v-1h-1v-4h1v-1h1v-1h1z"/>
<path fill="#000" d="M191 576h5v1h1v1h1v1h1v1h1v6h-1v1h-1v1h-1v1h-1v1h-5v-1h-1v-1h-1v-1h-1v-1h-1v-6h1v-1h1v-1h1v-1h1z"/>
<path fill="#000" d="M1091 729h5v1h1v1h1v1h1v1h1v5h-1v1h-1v1h-1v1h-1v1h-5v-1h-1v-1h-1v-1h-1v-1h-1v-5h1v-1h1v-1h1v-1h1z"/>
</g>
<g fill="#333333" shape-rendering="crispEdges">
<rect x="108" y="14" width="1222" height="1"/>
<rect x="108" y="14" width="1" height="756"/>
<rect x="108" y="768" width="1222" height="2"/>
<rect x="1328" y="14" width="2" height="756"/>
<rect x="100" y="170" width="8" height="2"/>
<rect x="100" y="388" width="8" height="2"/>
<rect x="100" y="605" width="8" height="2"/>
<rect x="162" y="770" width="2" height="6"/>
<rect x="192" y="770" width="2" height="6"/>
<rect x="222" y="770" width="2" height="6"/>
<rect x="252" y="770" width="2" height="6"/>
<rect x="282" y="770" width="2" height="6"/>
<rect x="312" y="770" width="2" height="6"/>
<rect x="342" y="770" width="2" height="6"/>
<rect x="372" y="770" width="2" height="6"/>
<rect x="402" y="770" width="2" height="6"/>
<rect x="432" y="770" width="2" height="6"/>
<rect x="462" y="770" width="2" height="6"/>
<rect x="492" y="770" width="2" height="6"/>
<rect x="522" y="770" width="2" height="6"/>
<rect x="552" y="770" width="2" height="6"/>
<rect x="582" y="770" width="2" height="6"/>
<rect x="612" y="770" width="2" height="6"/>
<rect x="642" y="770" width="2" height="6"/>
<rect x="672" y="770" width="2" height="6"/>
<rect x="702" y="770" width="2" height="6"/>
<rect x="732" y="770" width="2" height="6"/>
<rect x="762" y="770" width="2" height="6"/>
<rect x="792" y="770" width="2" height="6"/>
<rect x="822" y="770" width="2" height="6"/>
<rect x="852" y="770" width="2" height="6"/>
<rect x="882" y="770" width="2" height="6"/>
<rect x="912" y="770" width="2" height="6"/>
<rect x="942" y="770" width="2" height="6"/>
<rect x="972" y="770" width="2" height="6"/>
<rect x="1002" y="770" width="2" height="6"/>
<rect x="1032" y="770" width="2" height="6"/>
<rect x="1062" y="770" width="2" height="6"/>
<rect x="1092" y="770" width="2" height="6"/>
<rect x="1122" y="770" width="2" height="6"/>
<rect x="1152" y="770" width="2" height="6"/>
<rect x="1182" y="770" width="2" height="6"/>
<rect x="1212" y="770" width="2" height="6"/>
<rect x="1242" y="770" width="2" height="6"/>
<rect x="1272" y="770" width="2" height="6"/>
</g>
<g fill="#4D4D4D" font-size="23.47px">
<text x="49" y="181" textLength="44.5" lengthAdjust="spacingAndGlyphs">0.20</text>
<text x="49" y="399" textLength="44.5" lengthAdjust="spacingAndGlyphs">0.16</text>
<text x="49" y="616" textLength="44.5" lengthAdjust="spacingAndGlyphs">0.12</text>
<text x="163" y="801" text-anchor="middle">3</text>
<text x="193" y="801" text-anchor="middle">4</text>
<text x="223" y="801" text-anchor="middle">5</text>
<text x="253" y="801" text-anchor="middle">6</text>
<text x="283" y="801" text-anchor="middle">7</text>
<text x="313" y="801" text-anchor="middle">8</text>
<text x="343" y="801" text-anchor="middle">9</text>
<text x="373" y="801" text-anchor="middle">10</text>
<text x="403" y="801" text-anchor="middle">11</text>
<text x="433" y="801" text-anchor="middle">12</text>
<text x="463" y="801" text-anchor="middle">13</text>
<text x="493" y="801" text-anchor="middle">14</text>
<text x="523" y="801" text-anchor="middle">15</text>
<text x="553" y="801" text-anchor="middle">16</text>
<text x="583" y="801" text-anchor="middle">17</text>
<text x="613" y="801" text-anchor="middle">18</text>
<text x="643" y="801" text-anchor="middle">19</text>
<text x="673" y="801" text-anchor="middle">20</text>
<text x="703" y="801" text-anchor="middle">21</text>
<text x="733" y="801" text-anchor="middle">22</text>
<text x="763" y="801" text-anchor="middle">23</text>
<text x="793" y="801" text-anchor="middle">24</text>
<text x="823" y="801" text-anchor="middle">25</text>
<text x="853" y="801" text-anchor="middle">26</text>
<text x="883" y="801" text-anchor="middle">27</text>
<text x="913" y="801" text-anchor="middle">28</text>
<text x="943" y="801" text-anchor="middle">29</text>
<text x="973" y="801" text-anchor="middle">30</text>
<text x="1003" y="801" text-anchor="middle">31</text>
<text x="1033" y="801" text-anchor="middle">32</text>
<text x="1063" y="801" text-anchor="middle">33</text>
<text x="1093" y="801" text-anchor="middle">34</text>
<text x="1123" y="801" text-anchor="middle">35</text>
<text x="1153" y="801" text-anchor="middle">36</text>
<text x="1183" y="801" text-anchor="middle">37</text>
<text x="1213" y="801" text-anchor="middle">38</text>
<text x="1243" y="801" text-anchor="middle">39</text>
<text x="1273" y="801" text-anchor="middle">40</text>
</g>
<g fill="#000" font-size="29.33px">
<text x="717.9" y="835.1" text-anchor="middle">d</text>
<text transform="translate(37.1 391.6) rotate(-90)" text-anchor="middle" font-size="29.07px">Validační chybovost</text>
<text x="455.8" y="919.4" font-size="28.8px">Kernel</text>
</g>
<g shape-rendering="crispEdges">
<rect x="559" y="906" width="8" height="2" fill="#F8766D"/>
<rect x="591" y="906" width="5" height="2" fill="#F8766D"/>
<path fill="#F8766D" d="M575 902h4v1h1v1h1v1h1v4h-1v1h-1v1h-1v1h-4v-1h-1v-1h-1v-1h-1v-4h1v-1h1v-1h1z"/>
<rect x="689" y="906" width="8" height="2" fill="#00BA38"/>
<rect x="721" y="906" width="5" height="2" fill="#00BA38"/>
<path fill="#00BA38" d="M706 902h4v1h1v1h1v1h1v4h-1v1h-1v1h-1v1h-4v-1h-1v-1h-1v-1h-1v-4h1v-1h1v-1h1z"/>
<rect x="870" y="906" width="8" height="2" fill="#619CFF"/>
<rect x="902" y="906" width="4" height="2" fill="#619CFF"/>
<path fill="#619CFF" d="M886 902h4v1h1v1h1v1h1v4h-1v1h-1v1h-1v1h-4v-1h-1v-1h-1v-1h-1v-4h1v-1h1v-1h1z"/>
</g>
<g fill="#000" font-size="22px">
<text x="614.2" y="917" textLength="54.8" lengthAdjust="spacingAndGlyphs">linear</text>
<text x="744.2" y="917" textLength="105.9" lengthAdjust="spacingAndGlyphs">polynomial</text>
<text x="925.9" y="917" textLength="55.4" lengthAdjust="spacingAndGlyphs">radial</text>
</g>
</svg></body></html>
